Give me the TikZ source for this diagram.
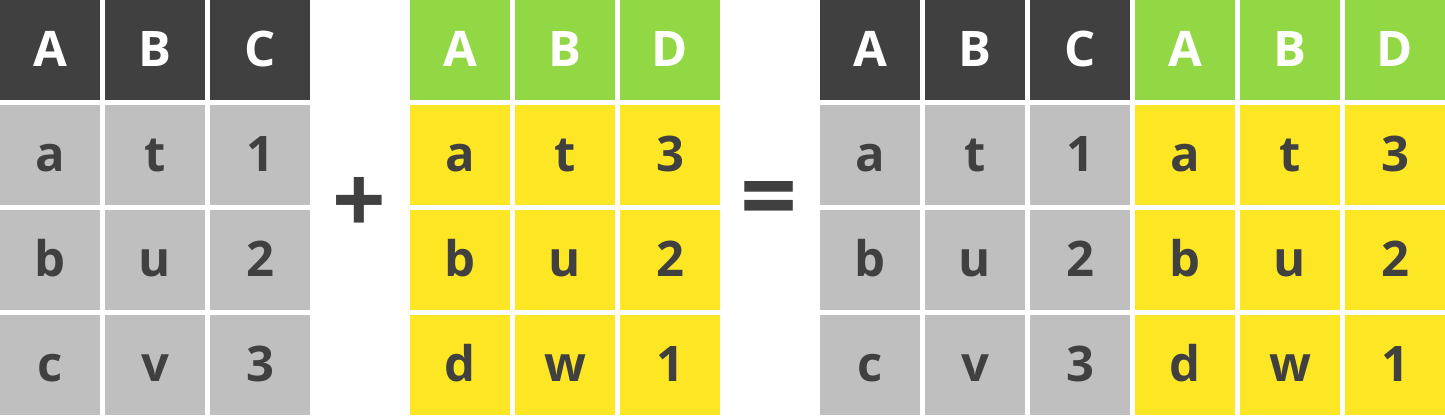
\documentclass[tikz,border=0pt]{standalone}
\usepackage{fontspec}
\setmainfont{Open Sans}
\definecolor{dk}{HTML}{404040}
\definecolor{gr}{HTML}{BFBFBF}
\definecolor{gn}{HTML}{92D845}
\definecolor{yl}{HTML}{FDE725}
\tikzset{
  cell/.style={minimum width=100pt,minimum height=100pt,inner sep=0pt,anchor=north west},
  lbl/.style={font=\fontsize{49}{49}\selectfont\bfseries,inner sep=0pt,anchor=base},
  hd/.style={lbl,text=white},
  bd/.style={lbl,text=dk},
  op/.style={text=dk,inner sep=0pt},
}
\begin{document}
\begin{tikzpicture}[x=1pt,y=-1pt]
\useasboundingbox (0,0) rectangle (1445,415);
% table 1
\foreach \x/\t [count=\i] in {0/A,105/B,210/C}{
  \node[cell,fill=dk] (h1\i) at (\x,0) {};
  \node[hd] (h1t\i) at (\x+50,66) {\t};
}
\foreach \x/\a/\b/\c [count=\i] in {0/a/b/c,105/t/u/v,210/1/2/3}{
  \foreach \y/\t [count=\j] in {105/\a,210/\b,315/\c}{
    \node[cell,fill=gr] (c1\i\j) at (\x,\y) {};
    \node[bd] (c1t\i\j) at (\x+50,\y+66) {\t};
  }
}
% plus
\node[op,font=\fontsize{94}{94}\selectfont\bfseries] (plus) at (359.5,205.5) {+};
% table 2
\foreach \x/\t [count=\i] in {410/A,515/B,620/D}{
  \node[cell,fill=gn] (h2\i) at (\x,0) {};
  \node[hd] (h2t\i) at (\x+50,66) {\t};
}
\foreach \x/\a/\b/\c [count=\i] in {410/a/b/d,515/t/u/w,620/3/2/1}{
  \foreach \y/\t [count=\j] in {105/\a,210/\b,315/\c}{
    \node[cell,fill=yl] (c2\i\j) at (\x,\y) {};
    \node[bd] (c2t\i\j) at (\x+50,\y+66) {\t};
  }
}
% equals
\node[op,font=\fontsize{100}{100}\selectfont\bfseries] (eq) at (769.5,206) {=};
% table 3
\foreach \x/\t/\f [count=\i] in {820/A/dk,925/B/dk,1030/C/dk,1135/A/gn,1240/B/gn,1345/D/gn}{
  \node[cell,fill=\f] (h3\i) at (\x,0) {};
  \node[hd] (h3t\i) at (\x+50,66) {\t};
}
\foreach \x/\a/\b/\c/\f [count=\i] in {820/a/b/c/gr,925/t/u/v/gr,1030/1/2/3/gr,1135/a/b/d/yl,1240/t/u/w/yl,1345/3/2/1/yl}{
  \foreach \y/\t [count=\j] in {105/\a,210/\b,315/\c}{
    \node[cell,fill=\f] (c3\i\j) at (\x,\y) {};
    \node[bd] (c3t\i\j) at (\x+50,\y+66) {\t};
  }
}
\end{tikzpicture}
\end{document}
